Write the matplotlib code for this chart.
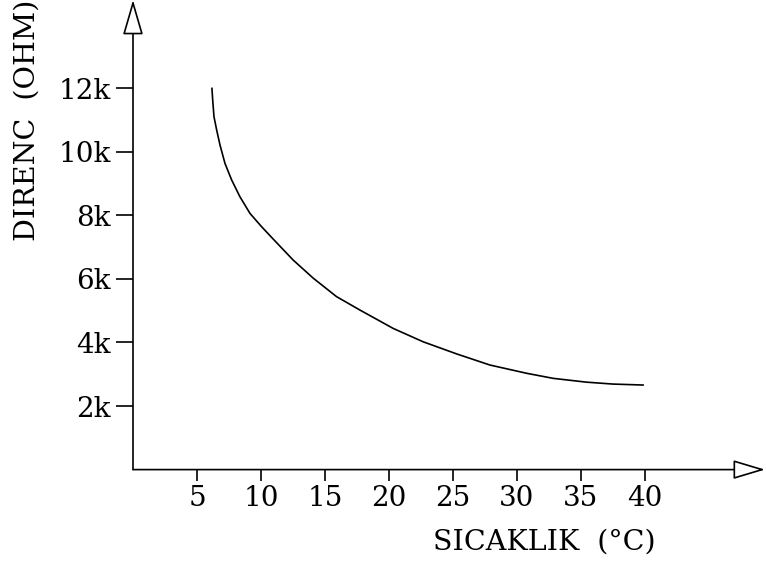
import matplotlib
matplotlib.use("Agg")
import matplotlib.pyplot as plt
from matplotlib.ticker import FuncFormatter

# Data
temperature = [6.17, 6.23, 6.33, 6.54, 6.80, 7.19, 7.71, 8.36, 9.14, 10.05, 10.96, 12.52,
               14.09, 15.91, 17.73, 20.34, 22.68, 25.29, 27.89, 30.76, 32.84, 35.45, 37.52, 39.87]
resistance_k = [11.99, 11.62, 11.10, 10.68, 10.21, 9.63, 9.11, 8.58, 8.06, 7.64, 7.25, 6.59,
                6.02, 5.44, 5.02, 4.44, 4.02, 3.64, 3.29, 3.03, 2.87, 2.75, 2.69, 2.66]
xticks = [5, 10, 15, 20, 25, 30, 35, 40]
yticks = [2, 4, 6, 8, 10, 12]
xlabel = "SICAKLIK  (°C)"
ylabel = "DIRENC  (OHM)"

plt.rcParams['font.family'] = ['DejaVu Serif']

fig = plt.figure(figsize=(7.66, 5.67), dpi=100)
ax = fig.add_axes([133/766, (567-469.6)/567, 632/766, 469.6/567])
ax.set_xlim(0, 49.4)
ax.set_ylim(0, 14.77)

ax.plot(temperature, resistance_k, color='black', lw=1.2, solid_joinstyle='round')

for s in ['top', 'right', 'left', 'bottom']:
    ax.spines[s].set_visible(False)

ax.set_xticks(xticks)
ax.set_yticks(yticks)
ax.yaxis.set_major_formatter(FuncFormatter(lambda v, p: f"{int(v)}k"))
ax.tick_params(axis='y', direction='out', length=12, width=1.2, pad=4, labelsize=20)
ax.tick_params(axis='x', direction='out', length=8, width=1.2, pad=3, labelsize=20)

# axis lines with open arrowheads
ax.annotate('', xy=(0, 1), xytext=(0, 0), xycoords='axes fraction',
            arrowprops=dict(arrowstyle='-|>,head_length=1.1,head_width=0.32',
                            mutation_scale=20, fc='white', ec='black', lw=1.2,
                            shrinkA=0, shrinkB=0), annotation_clip=False)
ax.annotate('', xy=(1, 0), xytext=(0, 0), xycoords='axes fraction',
            arrowprops=dict(arrowstyle='-|>,head_length=1.0,head_width=0.3',
                            mutation_scale=20, fc='white', ec='black', lw=1.2,
                            shrinkA=0, shrinkB=0), annotation_clip=False)

fig.text(544/766, 1 - 550/567, xlabel, ha='center', va='baseline', fontsize=20.5)
fig.text(27/766, 1 - 120/567, ylabel, ha='center', va='center', rotation=90, fontsize=20.5)

fig.savefig("out.png", dpi=100)
